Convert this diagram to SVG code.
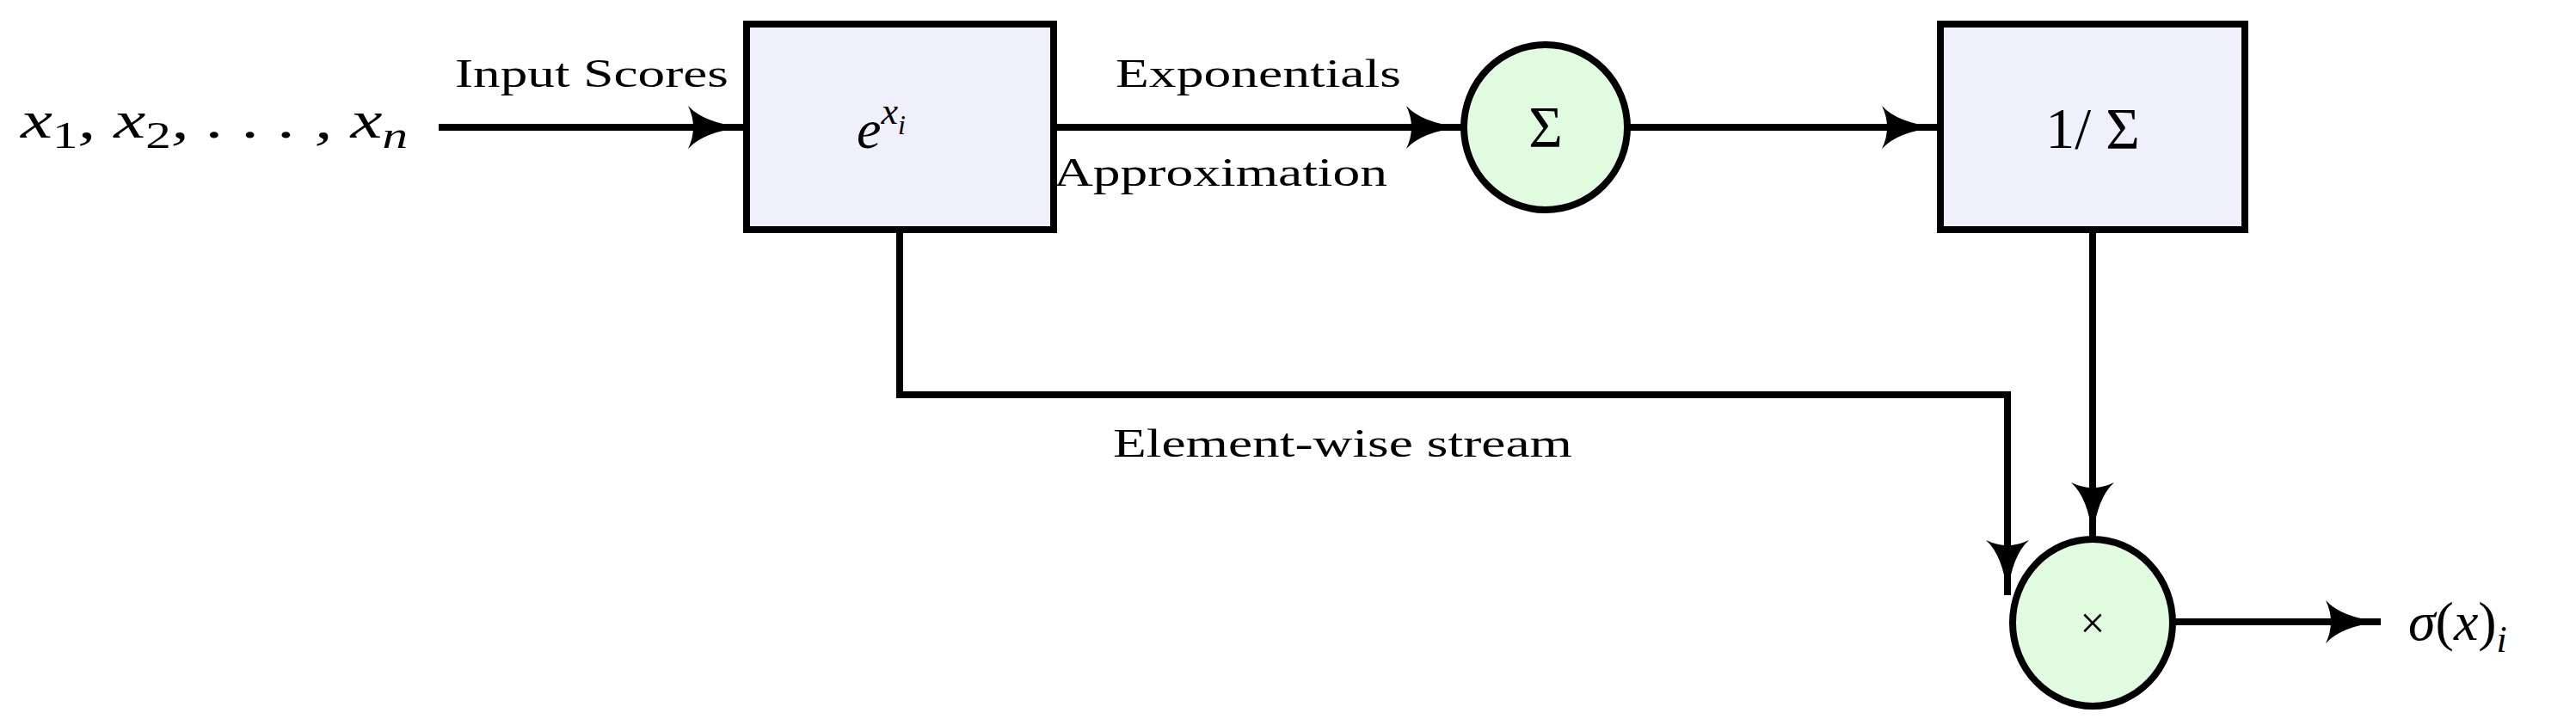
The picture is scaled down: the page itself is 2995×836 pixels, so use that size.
<svg xmlns="http://www.w3.org/2000/svg" width="2995" height="836" viewBox="0 0 2995 836">
<style>
.box{fill:#f0f0fc;stroke:#000;stroke-width:8}
.op{fill:#e1fbe1;stroke:#000;stroke-width:8}
.ln{fill:none;stroke:#000;stroke-width:8}
.t{font-family:"Liberation Serif",serif;font-size:46px}
.m{font-family:"Liberation Serif",serif;font-style:italic}
</style>
<defs>
<marker id="ah" viewBox="0 0 66 50" refX="64" refY="25" markerWidth="66" markerHeight="50" markerUnits="userSpaceOnUse" orient="auto">
<path d="M0,0 Q18,20 64,25 Q18,30 0,50 Q12,25 0,0Z" fill="#000"/>
</marker>
</defs>
<g id="connectors">
<line class="ln" x1="510" y1="148" x2="864" y2="148" marker-end="url(#ah)"/>
<line class="ln" x1="1225" y1="148" x2="1699" y2="148" marker-end="url(#ah)"/>
<line class="ln" x1="1892" y1="148" x2="2252" y2="148" marker-end="url(#ah)"/>
<line class="ln" x1="2433" y1="267" x2="2433" y2="625" marker-end="url(#ah)"/>
<polyline class="ln" points="1046,267 1046,459 2334,459 2334,692" marker-end="url(#ah)"/>
<line class="ln" x1="2526" y1="723" x2="2768" y2="723" marker-end="url(#ah)"/>
<text class="t" x="529" y="101" textLength="318" lengthAdjust="spacingAndGlyphs">Input Scores</text>
<text class="t" x="1297" y="101" textLength="332" lengthAdjust="spacingAndGlyphs">Exponentials</text>
<text class="t" x="1225" y="216" textLength="388" lengthAdjust="spacingAndGlyphs">Approximation</text>
<text class="t" x="1294" y="531" textLength="534" lengthAdjust="spacingAndGlyphs">Element-wise stream</text>
</g>
<g id="input"><text class="m" x="24" y="160" font-size="62" textLength="450" lengthAdjust="spacingAndGlyphs">x<tspan font-style="normal" font-size="44" dy="12">1</tspan><tspan dy="-12">, x</tspan><tspan font-style="normal" font-size="44" dy="12">2</tspan><tspan dy="-12">, . . . , x</tspan><tspan font-size="44" dy="12">n</tspan></text></g>
<g id="exp"><rect class="box" x="868" y="28" width="357" height="239"/>
<text class="m" x="996" y="172" font-size="64">e<tspan font-size="44" dy="-28">x</tspan><tspan font-size="32" dy="12">i</tspan></text></g>
<g id="sum"><ellipse class="op" cx="1797" cy="148" rx="95" ry="96"/>
<text x="1797" y="170" font-family="Liberation Serif,serif" font-size="68" text-anchor="middle">Σ</text></g>
<g id="recip"><rect class="box" x="2256" y="28" width="354" height="239"/>
<text x="2433" y="172" font-family="Liberation Serif,serif" font-size="68" text-anchor="middle">1/ Σ</text></g>
<g id="mul"><ellipse class="op" cx="2433" cy="724" rx="93" ry="97"/>
<text x="2433" y="742" font-family="Liberation Serif,serif" font-size="52" text-anchor="middle">×</text></g>
<g id="output"><text class="m" x="2800" y="744" font-size="64">σ<tspan font-style="normal">(</tspan>x<tspan font-style="normal">)</tspan><tspan font-size="44" dy="14">i</tspan></text></g>
</svg>
